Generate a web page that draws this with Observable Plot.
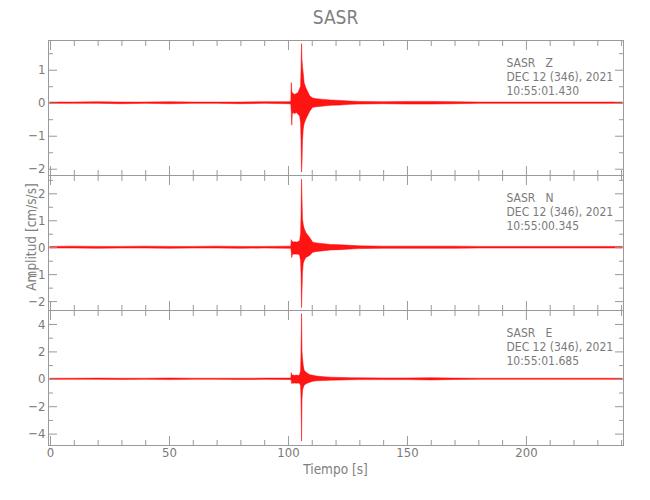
<!DOCTYPE html>
<html><head><meta charset="utf-8">
<script src="https://cdn.jsdelivr.net/npm/d3@7"></script>
<script src="https://cdn.jsdelivr.net/npm/@observablehq/plot@0.6"></script>
<style>
body{margin:0;background:#fff;}
#chart{position:relative;width:650px;height:500px;font-family:"Liberation Sans Narrow","DejaVu Sans Condensed","Liberation Sans",sans-serif;color:#808080;}
#title{position:absolute;left:48px;width:575px;top:6px;text-align:center;font-size:19px;}
#ylabel{position:absolute;left:31px;top:237px;transform:translate(-50%,-50%) rotate(-90deg);font-size:13.5px;white-space:nowrap;}
#xlabel{position:absolute;left:48px;width:575px;top:461px;text-align:center;font-size:13.5px;}
.panel{position:absolute;left:0;}
</style></head>
<body>
<div id="chart"><div id="title">SASR</div><div id="ylabel">Amplitud [cm/s/s]</div><div id="xlabel">Tiempo [s]</div></div>
<script>
// time (s) of envelope samples, shared by the three components
const time = [0,10,20,30,40,50,60,70,80,90,100,101.2,101.4,101.6,101.8,102.2,102.8,103.5,104.2,104.9,105.3,105.5,105.7,105.9,106.1,106.4,106.8,107.5,108.3,109.2,110.4,112,115,118,122,126,130,140,150,160,170,180,190,200,210,220,230,240.5];
// Z component envelope (max / min amplitude, cm/s/s)
const zHi = [0.02,0.02,0.03,0.02,0.02,0.03,0.02,0.02,0.02,0.03,0.03, 0.04,0.61,0.35,0.3, 0.28,0.25,0.28,0.3,0.43, 0.5,1.0,1.79,1.3,1.1, 0.9,0.6,0.45,0.33,0.2, 0.14,0.12,0.1,0.08,0.07, 0.05,0.04,0.03,0.04,0.04, 0.03,0.02,0.02,0.02,0.02, 0.02,0.02,0.02];
const zLo = [-0.02,-0.02,-0.02,-0.03,-0.02,-0.03,-0.02,-0.02,-0.03,-0.02,-0.03, -0.04,-0.3,-0.68,-0.35, -0.3,-0.33,-0.3,-0.35,-0.4, -0.6,-1.2,-2.1,-1.8,-1.14, -0.8,-0.63,-0.5,-0.38,-0.25, -0.14,-0.12,-0.1,-0.08,-0.07, -0.05,-0.04,-0.03,-0.04,-0.04, -0.03,-0.02,-0.02,-0.02,-0.02, -0.02,-0.02,-0.02];
// N component
const nHi = [0.03,0.04,0.03,0.03,0.04,0.03,0.03,0.04,0.03,0.03,0.04, 0.04,0.28,0.2,0.22, 0.19,0.2,0.19,0.2,0.25, 0.5,1.2,2.53,1.8,1.05, 0.85,0.7,0.55,0.45,0.35, 0.18,0.16,0.13,0.1,0.09, 0.07,0.05,0.04,0.04,0.04, 0.04,0.03,0.03,0.03,0.03, 0.03,0.03,0.03];
const nLo = [-0.03,-0.03,-0.04,-0.03,-0.03,-0.04,-0.03,-0.03,-0.04,-0.03,-0.04, -0.04,-0.2,-0.38,-0.28, -0.26,-0.25,-0.26,-0.25,-0.3, -0.5,-1.0,-2.24,-1.6,-0.94, -0.6,-0.5,-0.38,-0.34,-0.3, -0.19,-0.16,-0.13,-0.1,-0.09, -0.07,-0.05,-0.04,-0.04,-0.04, -0.04,-0.03,-0.03,-0.03,-0.03, -0.03,-0.03,-0.03];
// E component
const eHi = [0.04,0.04,0.05,0.04,0.04,0.06,0.04,0.04,0.04,0.05,0.05, 0.05,0.45,0.3,0.27, 0.27,0.25,0.27,0.25,0.3, 0.6,2.0,4.76,2.0,1.5, 1.0,0.62,0.5,0.38,0.3, 0.26,0.2,0.15,0.12,0.1, 0.08,0.07,0.06,0.06,0.08, 0.05,0.04,0.04,0.04,0.04, 0.04,0.04,0.04];
const eLo = [-0.04,-0.04,-0.04,-0.05,-0.04,-0.06,-0.04,-0.04,-0.05,-0.04,-0.05, -0.05,-0.2,-0.35,-0.3, -0.33,-0.3,-0.33,-0.3,-0.35, -0.5,-1.5,-4.54,-1.5,-0.85, -0.65,-0.47,-0.38,-0.3,-0.25, -0.18,-0.15,-0.12,-0.1,-0.09, -0.07,-0.06,-0.06,-0.06,-0.08, -0.05,-0.04,-0.04,-0.04,-0.04, -0.04,-0.04,-0.04];

const station = "SASR";
const components = ["Z","N","E"];
const dateLabel = "DEC 12 (346), 2021";
const startTimes = ["10:55:01.430","10:55:00.345","10:55:01.685"];

const xMajorTicks = [0,50,100,150,200];
const xMinorTicks = [10,20,30,40,60,70,80,90,110,120,130,140,160,170,180,190,210,220,230,240];
const yMajorTicks = [[-2,-1,0,1],[-2,-1,0,1,2],[-4,-2,0,2,4]];
const yMinorTicks = [[-1.5,-0.5,0.5,1.5],[-1.5,-0.5,0.5,1.5,2.5],[-3,-1,1,3]];
const xDomain = [-0.85, 240.8];
const yDomains = [[-2.19,1.9],[-2.33,2.68],[-4.83,5.02]];

const his = [zHi,nHi,eHi], los = [zLo,nLo,eLo];
const AX = "#9a9a9a", TXT = "#7a7a7a";
const FONT = '"Liberation Sans Narrow","DejaVu Sans Condensed","Liberation Sans",sans-serif';
const chart = document.getElementById("chart");

components.forEach((comp, i) => {
  const data = time.map((t, j) => ({t, hi: his[i][j], lo: los[i][j]}));
  const last = i === 2;
  const mt = 10, mb = last ? 50 : 10;
  const label = [`${station}\u00a0\u00a0\u00a0${comp}\n${dateLabel}\n${startTimes[i]}`];
  const marks = [
    Plot.areaY(data, {x: "t", y1: "lo", y2: "hi", fill: "red", fillOpacity: 0.92, stroke: "red", strokeWidth: 0.5}),
    Plot.frame({stroke: AX}),
    Plot.axisY(yMajorTicks[i], {anchor: "left", tickSize: -9, tickPadding: 12, stroke: AX, fill: TXT, label: null}),
    Plot.axisY(yMinorTicks[i], {anchor: "left", tickSize: -5, stroke: AX, fill: "none", label: null}),
    Plot.axisY(yMajorTicks[i], {anchor: "right", tickSize: -9, stroke: AX, fill: "none", label: null}),
    Plot.axisY(yMinorTicks[i], {anchor: "right", tickSize: -5, stroke: AX, fill: "none", label: null}),
    Plot.axisX(xMajorTicks, {anchor: "top", tickSize: -9, stroke: AX, fill: "none", label: null}),
    Plot.axisX(xMinorTicks, {anchor: "top", tickSize: -5, stroke: AX, fill: "none", label: null}),
    Plot.axisX(xMajorTicks, {anchor: "bottom", tickSize: -9, tickPadding: last ? 11 : 0, stroke: AX, fill: last ? TXT : "none", label: null}),
    Plot.axisX(xMinorTicks, {anchor: "bottom", tickSize: -5, stroke: AX, fill: "none", label: null}),
    Plot.text(label, {frameAnchor: "top-right", textAnchor: "start", lineAnchor: "top", dx: -117, dy: 17, lineHeight: 1.15, fontSize: 12, fill: TXT, text: d => d})
  ];
  const svg = Plot.plot({
    width: 650, height: 135 + mt + mb,
    marginLeft: 48, marginRight: 27, marginTop: mt, marginBottom: mb,
    style: {background: "transparent", overflow: "visible", fontFamily: FONT, fontSize: "13px", color: TXT},
    x: {domain: xDomain, axis: null},
    y: {domain: yDomains[i], axis: null},
    marks
  });
  svg.classList.add("panel");
  svg.style.top = (30 + 135 * i) + "px";
  chart.appendChild(svg);
});
</script>
</body></html>
